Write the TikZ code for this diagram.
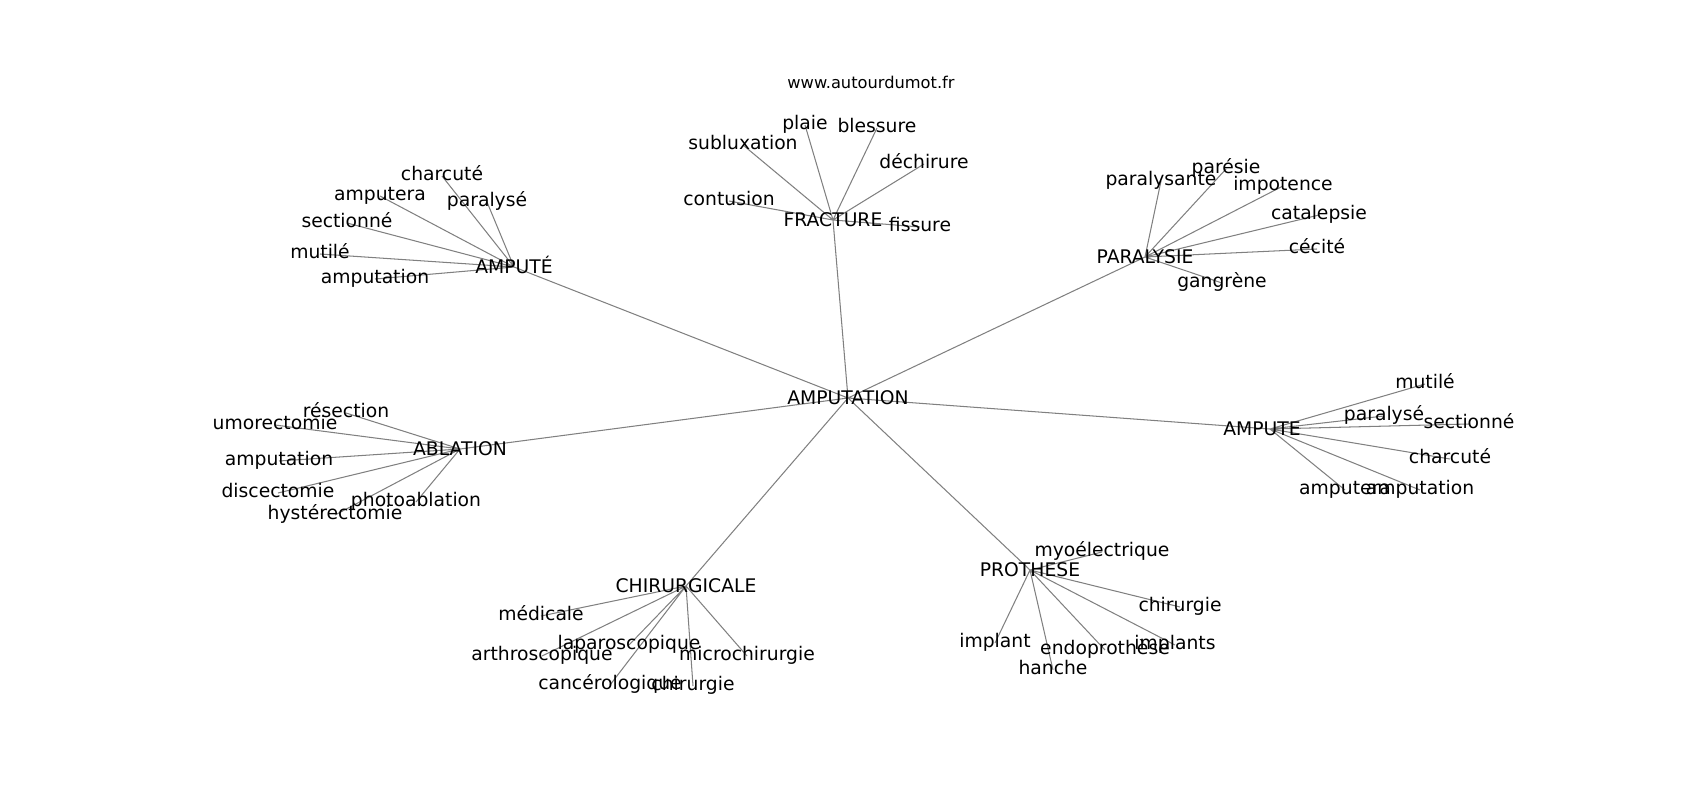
\documentclass[tikz,border=0pt]{standalone}
\usepackage{fontspec}
\setmainfont{DejaVu Sans}
\usetikzlibrary{backgrounds}

\begin{document}
\begin{tikzpicture}[x=0.72pt, y=-0.72pt,
            word/.style={inner sep=0pt, font=\fontsize{13.5}{16}\selectfont,
                text height=10.3pt, text depth=3.2pt},
            hub/.style={word, text height=9.9pt, text depth=0pt},
            edge/.style={draw=gray, line width=0.75pt}
        ]
        \useasboundingbox (0,0) rectangle (1700,800);
        \node[inner sep=0pt, font=\fontsize{11.7}{14}\selectfont] (site) at (871,82) {www.autourdumot.fr};
        % centre and hubs
        \node[hub] (p) at (848,398) {AMPUTATION};
        \node[hub] (c1) at (514,267) {AMPUTÉ};
        \node[hub] (c2) at (833,220) {FRACTURE};
        \node[hub] (c3) at (1145,257) {PARALYSIE};
        \node[hub] (c4) at (460,449) {ABLATION};
        \node[hub] (c5) at (1270,429) {AMPUTE\kern11.5pt};
        \node[hub] (c6) at (686,586) {CHIRURGICALE};
        \node[hub] (c7) at (1030,570) {PROTHESE};
        % AMPUTÉ
        \node[word] (gc11) at (442,176) {charcuté};
        \node[word] (gc12) at (380,196) {amputera};
        \node[word] (gc13) at (487,202) {paralysé};
        \node[word] (gc14) at (347,223) {sectionné};
        \node[word] (gc15) at (320,254) {mutilé};
        \node[word] (gc16) at (375,279) {amputation};
        % FRACTURE
        \node[word] (gc21) at (805,125) {plaie};
        \node[word] (gc22) at (877,128) {blessure};
        \node[word] (gc23) at (743,145) {subluxation};
        \node[word] (gc24) at (924,164) {déchirure};
        \node[word] (gc25) at (729,201) {contusion};
        \node[word] (gc26) at (920,227) {fissure};
        % PARALYSIE
        \node[word] (gc31) at (1226,169) {parésie};
        \node[word] (gc32) at (1161,181) {paralysante};
        \node[word] (gc33) at (1283,186) {impotence};
        \node[word] (gc34) at (1319,215) {catalepsie};
        \node[word] (gc35) at (1317,249) {cécité};
        \node[word] (gc36) at (1222,283) {gangrène};
        % ABLATION
        \node[word] (gc41) at (346,413) {résection};
        \node[word] (gc42) at (275,425) {umorectomie};
        \node[word] (gc43) at (279,461) {amputation};
        \node[word] (gc44) at (278,493) {discectomie};
        \node[word] (gc45) at (416,502) {photoablation};
        \node[word] (gc46) at (335,515) {hystérectomie};
        % AMPUTE
        \node[word] (gc51) at (1425,384) {mutilé};
        \node[word] (gc52) at (1384,416) {paralysé};
        \node[word] (gc53) at (1469,424) {sectionné};
        \node[word] (gc54) at (1450,459) {charcuté};
        \node[word] (gc55) at (1345,490) {amputera};
        \node[word] (gc56) at (1420,490) {amputation};
        % CHIRURGICALE
        \node[word] (gc61) at (541,616) {médicale};
        \node[word] (gc62) at (629,645) {laparoscopique};
        \node[word] (gc63) at (542,656) {arthroscopique};
        \node[word] (gc64) at (747,656) {microchirurgie};
        \node[word] (gc65) at (610,685) {cancérologique};
        \node[word] (gc66) at (693,686) {chirurgie};
        % PROTHESE
        \node[word] (gc71) at (1102,552) {myoélectrique};
        \node[word] (gc72) at (1180,607) {chirurgie};
        \node[word] (gc73) at (995,643) {implant};
        \node[word] (gc74) at (1105,650) {endoprothèse};
        \node[word] (gc75) at (1175,645) {implants};
        \node[word] (gc76) at (1053,670) {hanche};
        \begin{scope}[on background layer]
            \draw[edge] (p.center) -- (c1.center) (p.center) -- (c2.center) (p.center) -- (c3.center)
                (p.center) -- (c4.center) (p.center) -- (c5.center) (p.center) -- (c6.center)
                (p.center) -- (c7.center);
            \draw[edge] (c1.center) -- (gc11.center) (c1.center) -- (gc12.center) (c1.center) -- (gc13.center)
                (c1.center) -- (gc14.center) (c1.center) -- (gc15.center) (c1.center) -- (gc16.center);
            \draw[edge] (c2.center) -- (gc21.center) (c2.center) -- (gc22.center) (c2.center) -- (gc23.center)
                (c2.center) -- (gc24.center) (c2.center) -- (gc25.center) (c2.center) -- (gc26.center);
            \draw[edge] (c3.center) -- (gc31.center) (c3.center) -- (gc32.center) (c3.center) -- (gc33.center)
                (c3.center) -- (gc34.center) (c3.center) -- (gc35.center) (c3.center) -- (gc36.center);
            \draw[edge] (c4.center) -- (gc41.center) (c4.center) -- (gc42.center) (c4.center) -- (gc43.center)
                (c4.center) -- (gc44.center) (c4.center) -- (gc45.center) (c4.center) -- (gc46.center);
            \draw[edge] (c5.center) -- (gc51.center) (c5.center) -- (gc52.center) (c5.center) -- (gc53.center)
                (c5.center) -- (gc54.center) (c5.center) -- (gc55.center) (c5.center) -- (gc56.center);
            \draw[edge] (c6.center) -- (gc61.center) (c6.center) -- (gc62.center) (c6.center) -- (gc63.center)
                (c6.center) -- (gc64.center) (c6.center) -- (gc65.center) (c6.center) -- (gc66.center);
            \draw[edge] (c7.center) -- (gc71.center) (c7.center) -- (gc72.center) (c7.center) -- (gc73.center)
                (c7.center) -- (gc74.center) (c7.center) -- (gc75.center) (c7.center) -- (gc76.center);
        \end{scope}
    \end{tikzpicture}
\end{document}
